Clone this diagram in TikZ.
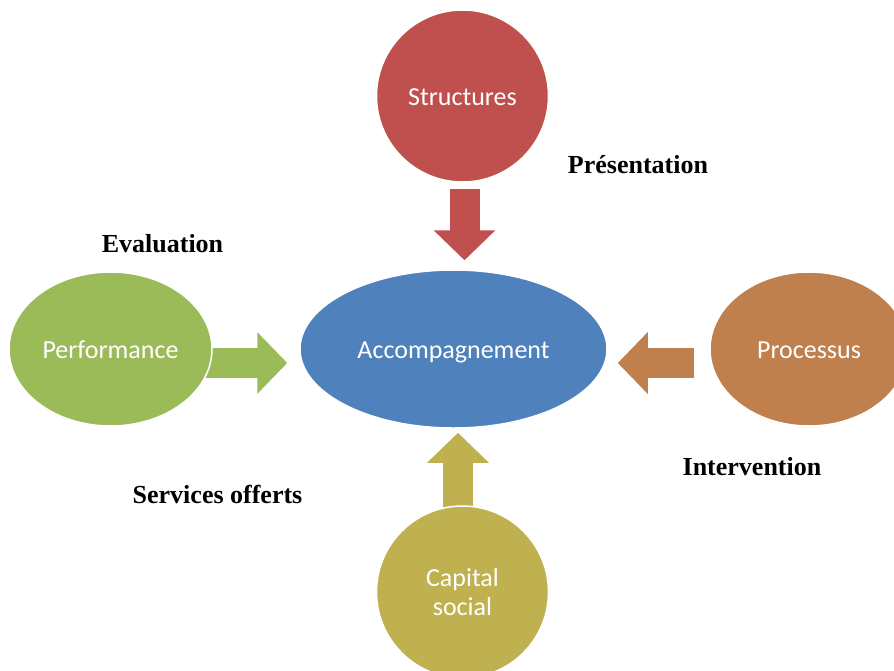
\documentclass[tikz,border=0pt]{standalone}
\usepackage{fontspec}
\setmainfont{Liberation Serif}
\newfontfamily\carlito{Carlito}
\usetikzlibrary{shapes.geometric,arrows.meta,backgrounds}
\definecolor{accblue}{HTML}{4F81BD}
\definecolor{strred}{HTML}{C0504D}
\definecolor{perfgreen}{HTML}{9BBB59}
\definecolor{procorange}{HTML}{C0804D}
\definecolor{capolive}{HTML}{BFB050}
\begin{document}
\begin{tikzpicture}[x=1pt,y=-1pt,
    main node/.style={ellipse,draw=white,line width=1.5pt,inner sep=0pt,text=white,
      font=\carlito\fontsize{26}{29}\selectfont,text height=21pt,text depth=2pt},
    round node/.style={main node,circle,minimum size=172pt},
    legend text/.style={anchor=base,font=\bfseries\fontsize{26}{30}\selectfont},
    flow/.style={line width=30pt,-{Triangle[width=60pt,length=30pt]}}]

  \useasboundingbox (0,0) rectangle (894,670);
  \clip (0,0) rectangle (894,670);

  \node[main node,fill=accblue,minimum width=307pt,minimum height=158pt] (acc) at (453.5,349) {Accompagnement};
  \node[round node,fill=strred] (struct) [above of=acc,node distance=253pt,xshift=9pt] {Structures};
  \node[main node,fill=perfgreen,minimum width=203pt,minimum height=154pt] (perf) [left of=acc,node distance=343pt] {Performance};
  \node[main node,fill=procorange,minimum width=198pt,minimum height=154pt] (proc) [right of=acc,node distance=355.5pt] {Processus};
  \node[round node,fill=capolive,align=center,text height=,text depth=] (cap) [below of=acc,node distance=243pt,xshift=9pt] {Capital\\social};

  \node[legend text] (pres) at (638,173) {Présentation};
  \node[legend text] (eval) at (162.5,252) {Evaluation};
  \node[legend text] (serv) at (217.5,503) {Services offerts};
  \node[legend text] (interv) at (752,475) {Intervention};

  \begin{scope}[on background layer]
    \draw[flow,strred,shorten <=6pt,shorten >=9pt] ([xshift=2pt]struct.south) -- ([xshift=2pt]struct.south |- acc.north);
    \draw[flow,perfgreen,shorten <=-12pt,shorten >=12pt] ([yshift=-14pt]perf.east) -- ([yshift=-14pt]perf.east -| acc.west);
    \draw[flow,procorange,shorten <=15pt,shorten >=10pt] ([yshift=-14pt]proc.west) -- ([yshift=-14pt]proc.west -| acc.east);
    \draw[flow,capolive,shorten <=-8pt,shorten >=4pt] ([xshift=-4.5pt]cap.north) -- ([xshift=-4.5pt]cap.north |- acc.south);
  \end{scope}
\end{tikzpicture}
\end{document}
